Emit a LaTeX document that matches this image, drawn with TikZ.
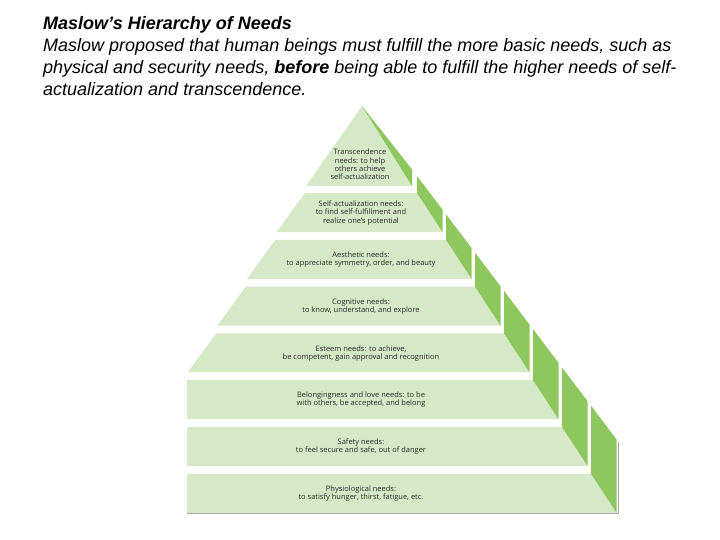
\documentclass[tikz,border=0pt]{standalone}
\usepackage{fontspec}
\setmainfont{Liberation Sans}
\newfontfamily\pyrfont{Open Sans}
\definecolor{bandlight}{RGB}{214,233,198}
\definecolor{banddark}{RGB}{143,199,95}
\definecolor{pyrtext}{RGB}{40,40,40}
\begin{document}
\begin{tikzpicture}[x=1pt,y=-1pt,
  titleline/.style={anchor=base west, inner sep=0pt, font=\fontsize{18}{21}\selectfont\itshape},
  lvl/.style={align=center, inner sep=0pt, text=pyrtext, font=\pyrfont\fontsize{7.5}{8.4}\selectfont},
  face/.style={fill=bandlight},
  sideface/.style={fill=banddark}]
\useasboundingbox (0,0) rectangle (720,540);

\node[titleline, font=\fontsize{18}{21}\selectfont\bfseries\itshape] (t1) at (43,30) {Maslow’s Hierarchy of Needs};
\node[titleline] (t2) at (43,52) {Maslow proposed that human beings must fulfill the more basic needs, such as};
\node[titleline] (t3) at (43,74) {physical and security needs, \textbf{before} being able to fulfill the higher needs of self-};
\node[titleline] (t4) at (43,95.5) {actualization and transcendence.};

% shadow
\draw[gray!70, line width=1.2pt] (187,513.6) -- (618.4,513.6) -- (618.4,442);

\begin{scope}
\clip (187,0) rectangle (720,540);
% top triangle
\fill[face] (362,106) -- (412,186) -- (306,186) -- cycle;
\fill[sideface] (362,106) -- (412,169.4) -- (412,186) -- cycle;
\foreach \k in {2,...,8} {
  \pgfmathsetmacro\yt{193+46.8*(\k-2)}
  \pgfmathsetmacro\yb{\yt+39}
  \pgfmathsetmacro\xlt{305-29.6*(\k-2)}
  \pgfmathsetmacro\xlb{\xlt-28.5}
  \pgfmathsetmacro\xrt{417+29*(\k-2)}
  \pgfmathsetmacro\xrb{\xrt+25.5}
  \pgfmathsetmacro\rt{176+1.32*(\xrt-417)}
  \pgfmathsetmacro\rb{176+1.32*(\xrb-417)}
  \fill[face] (\xlt,\yt) -- (\xrt,\yt) -- (\xrb,\yb) -- (\xlb,\yb) -- cycle;
  \fill[sideface] (\xrt,\yt) -- (\xrt,\rt) -- (\xrb,\rb) -- (\xrb,\yb) -- cycle;
}
\end{scope}

\node[lvl] (l1) at (360,164.5) {Transcendence\\needs: to help\\others achieve\\self-actualization};
\node[lvl] (l2) at (361,213) {Self-actualization needs:\\to find self-fulfillment and\\realize one’s potential};
\node[lvl] (l3) at (361,259.5) {Aesthetic needs:\\to appreciate symmetry, order, and beauty};
\node[lvl] (l4) at (361,306.3) {Cognitive needs:\\to know, understand, and explore};
\node[lvl] (l5) at (361,353.6) {Esteem needs: to achieve,\\be competent, gain approval and recognition};
\node[lvl] (l6) at (361,399.5) {Belongingness and love needs: to be\\with others, be accepted, and belong};
\node[lvl] (l7) at (361,446.3) {Safety needs:\\to feel secure and safe, out of danger};
\node[lvl] (l8) at (361,493.3) {Physiological needs:\\to satisfy hunger, thirst, fatigue, etc.};
\end{tikzpicture}
\end{document}
